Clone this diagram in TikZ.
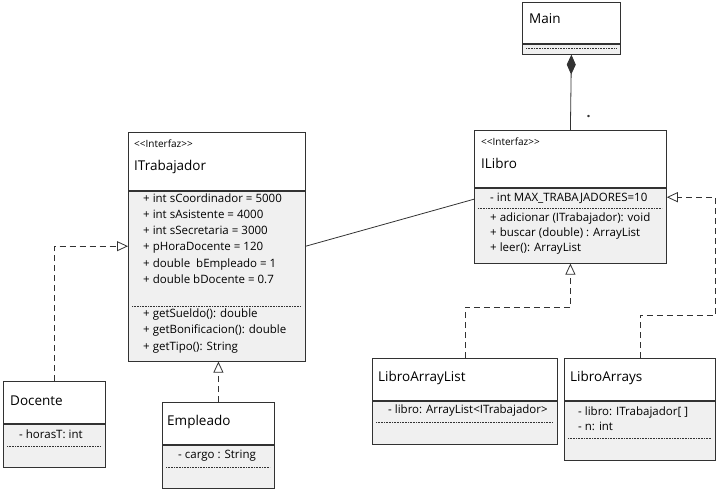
\documentclass[tikz,border=0pt]{standalone}
\usepackage{fontspec}
\setmainfont{Open Sans}
\usetikzlibrary{arrows.meta}
\definecolor{bodygray}{RGB}{240,240,240}
\definecolor{umlline}{RGB}{50,50,50}

\begin{document}
\begin{tikzpicture}[x=1pt, y=-1pt,
	head/.style={rectangle, draw=umlline, fill=white, line width=0.8pt, anchor=north west, inner sep=0},
	body/.style={rectangle, draw=umlline, fill=bodygray, line width=0.8pt, anchor=north west, inner sep=0},
	member/.style={anchor=west, inner sep=0, font=\fontsize{11.5}{13}\selectfont, text height=0.7em, text depth=0.2em},
	cname/.style={member, font=\fontsize{13.5}{15}\selectfont},
	stereo/.style={member, font=\fontsize{10}{11}\selectfont},
	sep/.style={densely dotted, line width=0.6pt, umlline},
	realize/.style={dash pattern=on 6pt off 4pt, line width=0.8pt, umlline, -{Triangle[open, length=11pt, width=10pt, fill=white]}}]
	\useasboundingbox (0,0) rectangle (717,489);
	% Main
	\node (main) [head, minimum width=98pt, minimum height=41pt] at (522,2) {};
	\node (mainBody) [body, minimum width=98pt, minimum height=10pt] at (main.south west) {};
	\node (mainName) [cname] at (529,21) {Main};
	\draw [sep] (526,48) -- (616,48);
	% ILibro
	\node (ilibro) [head, minimum width=192pt, minimum height=57pt] at (474,130) {};
	\node (ilibroBody) [body, minimum width=192pt, minimum height=75pt] at (ilibro.south west) {};
	\node [stereo] at (481,143) {<\kern0pt<Interfaz>\kern0pt>};
	\node (ilibroName) [cname] at (481,166) {ILibro};
	\node [member] at (490,199) {- int MAX\_TRABAJADORES=10};
	\draw [sep] (478,208) -- (662,208);
	\node [member] at (490,219) {+ adicionar (ITrabajador): void};
	\node [member] at (490,234) {+ buscar (double) : ArrayList};
	\node [member] at (490,249) {+ leer(): ArrayList};
	% ITrabajador
	\node (itrab) [head, minimum width=177pt, minimum height=58pt] at (128,132) {};
	\node (itrabBody) [body, minimum width=177pt, minimum height=170pt] at (itrab.south west) {};
	\node [stereo] at (134,145) {<\kern0pt<Interfaz>\kern0pt>};
	\node (itrabName) [cname] at (134,168) {ITrabajador};
	\node [member] at (143,200) {+ int sCoordinador = 5000};
	\node [member] at (143,216) {+ int sAsistente = 4000};
	\node [member] at (143,232) {+ int sSecretaria = 3000};
	\node [member] at (143,248) {+ pHoraDocente = 120};
	\node [member] at (143,265) {+ double\ \ bEmpleado = 1};
	\node [member] at (143,281) {+ double bDocente = 0.7};
	\draw [sep] (132,306) -- (301,306);
	\node [member] at (143,315) {+ getSueldo(): double};
	\node [member] at (143,331) {+ getBonificacion(): double};
	\node [member] at (143,348) {+ getTipo(): String};
	% Docente
	\node (docente) [head, minimum width=102pt, minimum height=42pt] at (3,381) {};
	\node (docenteBody) [body, minimum width=102pt, minimum height=43pt] at (docente.south west) {};
	\node (docenteName) [cname] at (10,403) {Docente};
	\node [member] at (19,436) {- horasT: int};
	\draw [sep] (7,446) -- (101,446);
	% Empleado
	\node (empleado) [head, minimum width=112pt, minimum height=42pt] at (162,402) {};
	\node (empleadoBody) [body, minimum width=112pt, minimum height=43pt] at (empleado.south west) {};
	\node (empleadoName) [cname] at (167,423) {Empleado};
	\node [member] at (178,456) {- cargo : String};
	\draw [sep] (166,467) -- (270,467);
	% LibroArrayList
	\node (libroAL) [head, minimum width=185pt, minimum height=42pt] at (372,358) {};
	\node (libroALBody) [body, minimum width=185pt, minimum height=43pt] at (libroAL.south west) {};
	\node (libroALName) [cname] at (378,379) {LibroArrayList};
	\node [member] at (388,411) {- libro: ArrayList<ITrabajador>};
	\draw [sep] (376,422) -- (553,422);
	% LibroArrays
	\node (libroArr) [head, minimum width=151pt, minimum height=42pt] at (564,358) {};
	\node (libroArrBody) [body, minimum width=151pt, minimum height=59pt] at (libroArr.south west) {};
	\node (libroArrName) [cname] at (570,379) {LibroArrays};
	\node [member] at (578,413) {- libro: ITrabajador[ ]};
	\node [member] at (578,428) {- n: int};
	\draw [sep] (568,438) -- (711,438);
	% connectors
	\draw [line width=0.8pt, umlline, {Diamond[length=20pt, width=9pt]}-] (mainBody.south) -- (ilibro.north) node [pos=0.83, xshift=18pt, inner sep=0, anchor=base, font=\bfseries\fontsize{14}{14}\selectfont] {.};
	\draw [line width=0.8pt, umlline] ([yshift=30pt]itrabBody.east) -- ([yshift=26.5pt]ilibroBody.west);
	\draw [realize] (docente.north) |- ([yshift=30pt]itrabBody.west);
	\draw [realize] (empleado.north) -- (empleado.north |- itrabBody.south);
	\draw [realize] (libroAL.north) -- ++(0,-51) -| (ilibroBody.south);
	\draw [realize] (libroArr.north) -- ++(0,-43) -- ++(75.5,0) |- ([yshift=28.5pt]ilibroBody.east);
\end{tikzpicture}
\end{document}
